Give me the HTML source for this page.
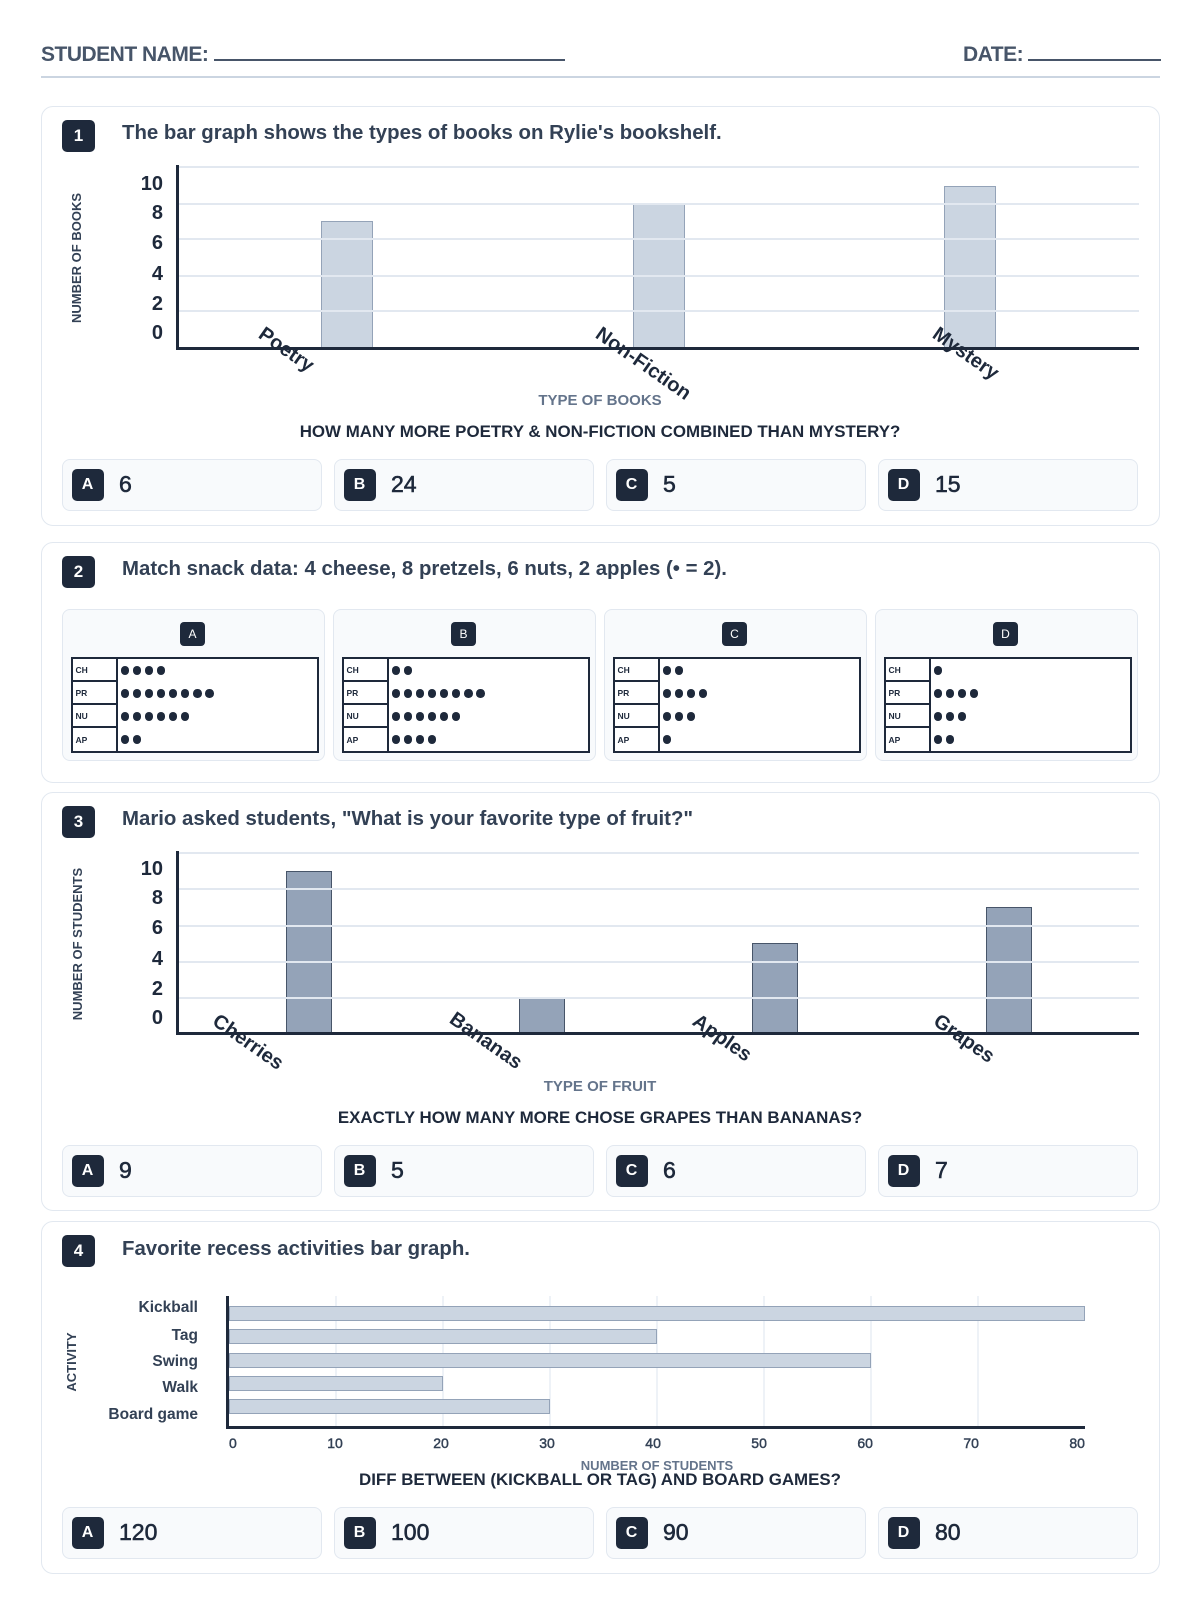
<!DOCTYPE html>
<html><head><meta charset="utf-8">
<style>
body{margin:0;width:1200px;height:1600px;position:relative;background:#fff;font-family:"Liberation Sans",sans-serif;overflow:hidden}
div,span{box-sizing:border-box}
.a{position:absolute}
.card{position:absolute;left:41px;width:1119px;border:1.5px solid #e2e8f0;border-radius:12px;background:#fff}
.nb{position:absolute;left:62px;width:33px;height:32px;background:#1e293b;color:#fff;border-radius:5px;font:bold 17px/32px "Liberation Sans",sans-serif;text-align:center}
.ttl{position:absolute;left:122px;font:bold 20.4px/20px "Liberation Sans",sans-serif;color:#334155;white-space:nowrap}
.yl{position:absolute;left:110px;width:53px;text-align:right;font:bold 20px/20px "Liberation Sans",sans-serif;color:#1e293b}
.gl{position:absolute;left:177px;width:962px;height:2px;background:#e2e8f0}
.xl{position:absolute;font:bold 20px/22px "Liberation Sans",sans-serif;color:#1e293b;transform:rotate(35deg);transform-origin:0 0;white-space:nowrap}
.ax{position:absolute;background:#1e293b}
.b1{position:absolute;background:#cbd5e1;border:1.5px solid #94a3b8}
.b3{position:absolute;background:#94a3b8;border:1.5px solid #475569}
.yt{position:absolute;width:200px;text-align:center;font:bold 13px/14px "Liberation Sans",sans-serif;color:#334155;transform:rotate(-90deg);white-space:nowrap}
.xt{position:absolute;left:300px;width:600px;text-align:center;font:bold 15px/16px "Liberation Sans",sans-serif;color:#64748b}
.q{position:absolute;left:100px;width:1000px;text-align:center;font:bold 16.9px/18px "Liberation Sans",sans-serif;color:#1e293b;white-space:nowrap}
.ans{position:absolute;width:260px;height:52px;background:#f8fafc;border:1.5px solid #e2e8f0;border-radius:8px}
.ans .l{position:absolute;left:8.5px;top:8.5px;width:32px;height:32px;background:#1e293b;border-radius:5px;color:#fff;font:bold 16px/32px "Liberation Sans",sans-serif;text-align:center}
.ans .v{position:absolute;left:56px;top:0;line-height:49px;font-size:23px;color:#1e293b;-webkit-text-stroke:.6px #1e293b}
.pp{position:absolute;top:609px;width:263px;height:152px;background:#f8fafc;border:1.5px solid #e2e8f0;border-radius:8px}
.pp .pb{position:absolute;left:117px;top:11.5px;width:25px;height:24px;background:#1e293b;border-radius:4px;color:#fff;font:12px/24px "Liberation Sans",sans-serif;text-align:center}
.tb{position:absolute;left:7.5px;top:46.5px;width:248px;height:96px;border:2px solid #1e293b;background:#fff}
.lc{position:absolute;left:0;top:0;width:45px;height:92px;border-right:2px solid #1e293b}
.lc div{height:23px;border-bottom:2px solid #1e293b;font:bold 8.5px/23px "Liberation Sans",sans-serif;color:#1e293b;padding-left:3px}
.lc div:last-child{border-bottom:none;line-height:24px}
.dc{position:absolute;left:48px;top:0;width:190px}
.dc div{height:23px;padding-top:7.5px;white-space:nowrap;font-size:0}
.dc i{display:inline-block;width:8.5px;height:8.5px;border-radius:50%;background:#1e293b;margin-right:3.6px}
.vg{position:absolute;top:1296px;width:1.5px;height:130px;background:#eef2f7}
.hb{position:absolute;left:229px;height:15px;background:#cbd5e1;border:1.5px solid #94a3b8}
.cl{position:absolute;left:90px;width:108px;text-align:right;font:bold 15.5px/16px "Liberation Sans",sans-serif;color:#334155;white-space:nowrap}
</style></head><body>

<!-- Header -->
<div class="a" style="left:41px;top:44px;font:bold 21px/21px 'Liberation Sans',sans-serif;color:#475569;letter-spacing:-0.5px;white-space:nowrap">STUDENT NAME: <span style="display:inline-block;width:351px;border-bottom:2px solid #475569;vertical-align:baseline;letter-spacing:0"></span></div>
<div class="a" style="left:963px;top:44px;font:bold 21px/21px 'Liberation Sans',sans-serif;color:#475569;letter-spacing:-0.5px;white-space:nowrap">DATE: <span style="display:inline-block;width:133px;border-bottom:2px solid #475569;vertical-align:baseline;letter-spacing:0"></span></div>
<div class="a" style="left:41px;top:76px;width:1119px;height:2px;background:#cbd5e1"></div>

<!-- Card 1 -->
<div class="card" style="top:106px;height:420px"></div>
<div class="nb" style="top:120px">1</div>
<div class="ttl" style="top:123px">The bar graph shows the types of books on Rylie's bookshelf.</div>

<div class="yt" style="left:-23px;top:251px">NUMBER OF BOOKS</div>
<div class="yl" style="top:174px">10</div>
<div class="yl" style="top:203px">8</div>
<div class="yl" style="top:233px">6</div>
<div class="yl" style="top:264px">4</div>
<div class="yl" style="top:294px">2</div>
<div class="yl" style="top:323px">0</div>

<div class="b1" style="left:321px;top:221px;width:52px;height:127px"></div>
<div class="b1" style="left:633px;top:204px;width:52px;height:144px"></div>
<div class="b1" style="left:944px;top:186px;width:52px;height:162px"></div>

<div class="gl" style="top:166px"></div>
<div class="gl" style="top:203px"></div>
<div class="gl" style="top:238px"></div>
<div class="gl" style="top:275px"></div>
<div class="gl" style="top:310px"></div>

<div class="ax" style="left:176px;top:165px;width:3px;height:185px"></div>
<div class="ax" style="left:176px;top:347px;width:963px;height:3px"></div>

<div class="xl" style="left:267px;top:323px">Poetry</div>
<div class="xl" style="left:604px;top:323px">Non-Fiction</div>
<div class="xl" style="left:941px;top:323px">Mystery</div>

<div class="xt" style="top:393px">TYPE OF BOOKS</div>
<div class="q" style="top:423px">HOW MANY MORE POETRY &amp; NON-FICTION COMBINED THAN MYSTERY?</div>

<div class="ans" style="left:62px;top:459px"><div class="l">A</div><div class="v">6</div></div>
<div class="ans" style="left:334px;top:459px"><div class="l">B</div><div class="v">24</div></div>
<div class="ans" style="left:606px;top:459px"><div class="l">C</div><div class="v">5</div></div>
<div class="ans" style="left:878px;top:459px"><div class="l">D</div><div class="v">15</div></div>

<!-- Card 2 -->
<div class="card" style="top:542px;height:241px"></div>
<div class="nb" style="top:556px">2</div>
<div class="ttl" style="top:559px">Match snack data: 4 cheese, 8 pretzels, 6 nuts, 2 apples (• = 2).</div>

<div class="pp" style="left:62px"><div class="pb">A</div>
 <div class="tb"><div class="lc"><div>CH</div><div>PR</div><div>NU</div><div>AP</div></div>
 <div class="dc"><div><i></i><i></i><i></i><i></i></div><div><i></i><i></i><i></i><i></i><i></i><i></i><i></i><i></i></div><div><i></i><i></i><i></i><i></i><i></i><i></i></div><div><i></i><i></i></div></div></div></div>
<div class="pp" style="left:333px"><div class="pb">B</div>
 <div class="tb"><div class="lc"><div>CH</div><div>PR</div><div>NU</div><div>AP</div></div>
 <div class="dc"><div><i></i><i></i></div><div><i></i><i></i><i></i><i></i><i></i><i></i><i></i><i></i></div><div><i></i><i></i><i></i><i></i><i></i><i></i></div><div><i></i><i></i><i></i><i></i></div></div></div></div>
<div class="pp" style="left:604px"><div class="pb">C</div>
 <div class="tb"><div class="lc"><div>CH</div><div>PR</div><div>NU</div><div>AP</div></div>
 <div class="dc"><div><i></i><i></i></div><div><i></i><i></i><i></i><i></i></div><div><i></i><i></i><i></i></div><div><i></i></div></div></div></div>
<div class="pp" style="left:875px"><div class="pb">D</div>
 <div class="tb"><div class="lc"><div>CH</div><div>PR</div><div>NU</div><div>AP</div></div>
 <div class="dc"><div><i></i></div><div><i></i><i></i><i></i><i></i></div><div><i></i><i></i><i></i></div><div><i></i><i></i></div></div></div></div>

<!-- Card 3 -->
<div class="card" style="top:792px;height:419px"></div>
<div class="nb" style="top:806px">3</div>
<div class="ttl" style="top:809px">Mario asked students, "What is your favorite type of fruit?"</div>

<div class="yt" style="left:-22px;top:937px">NUMBER OF STUDENTS</div>
<div class="yl" style="top:859px">10</div>
<div class="yl" style="top:888px">8</div>
<div class="yl" style="top:918px">6</div>
<div class="yl" style="top:949px">4</div>
<div class="yl" style="top:979px">2</div>
<div class="yl" style="top:1008px">0</div>

<div class="b3" style="left:286px;top:871px;width:46px;height:162px"></div>
<div class="b3" style="left:519px;top:997px;width:46px;height:36px"></div>
<div class="b3" style="left:752px;top:943px;width:46px;height:90px"></div>
<div class="b3" style="left:986px;top:907px;width:46px;height:126px"></div>

<div class="gl" style="top:852px"></div>
<div class="gl" style="top:888px"></div>
<div class="gl" style="top:925px"></div>
<div class="gl" style="top:961px"></div>
<div class="gl" style="top:997px"></div>

<div class="ax" style="left:176px;top:851px;width:3px;height:184px"></div>
<div class="ax" style="left:176px;top:1032px;width:963px;height:3px"></div>

<div class="xl" style="left:221px;top:1010px">Cherries</div>
<div class="xl" style="left:458px;top:1008px">Bananas</div>
<div class="xl" style="left:701px;top:1010px">Apples</div>
<div class="xl" style="left:942px;top:1010px">Grapes</div>

<div class="xt" style="top:1079px">TYPE OF FRUIT</div>
<div class="q" style="top:1109px">EXACTLY HOW MANY MORE CHOSE GRAPES THAN BANANAS?</div>

<div class="ans" style="left:62px;top:1145px"><div class="l">A</div><div class="v">9</div></div>
<div class="ans" style="left:334px;top:1145px"><div class="l">B</div><div class="v">5</div></div>
<div class="ans" style="left:606px;top:1145px"><div class="l">C</div><div class="v">6</div></div>
<div class="ans" style="left:878px;top:1145px"><div class="l">D</div><div class="v">7</div></div>

<!-- Card 4 -->
<div class="card" style="top:1221px;height:353px"></div>
<div class="nb" style="top:1235px">4</div>
<div class="ttl" style="top:1239px">Favorite recess activities bar graph.</div>

<div class="yt" style="left:-28px;top:1355px">ACTIVITY</div>

<div class="vg" style="left:335px"></div>
<div class="vg" style="left:442px"></div>
<div class="vg" style="left:549px"></div>
<div class="vg" style="left:656px"></div>
<div class="vg" style="left:763px"></div>
<div class="vg" style="left:870px"></div>
<div class="vg" style="left:977px"></div>

<div class="hb" style="top:1306px;width:856px"></div>
<div class="hb" style="top:1329px;width:428px"></div>
<div class="hb" style="top:1353px;width:642px"></div>
<div class="hb" style="top:1376px;width:214px"></div>
<div class="hb" style="top:1399px;width:321px"></div>

<div class="ax" style="left:226px;top:1296px;width:3px;height:133px"></div>
<div class="ax" style="left:226px;top:1426px;width:859px;height:3px"></div>

<div class="cl" style="top:1300px">Kickball</div>
<div class="cl" style="top:1328px">Tag</div>
<div class="cl" style="top:1354px">Swing</div>
<div class="cl" style="top:1380px">Walk</div>
<div class="cl" style="top:1407px">Board game</div>

<div class="a" style="left:229px;top:1435px;width:856px;display:flex;justify-content:space-between;font:14px/16px 'Liberation Sans',sans-serif;color:#334155;-webkit-text-stroke:.45px #334155">
<span>0</span><span>10</span><span>20</span><span>30</span><span>40</span><span>50</span><span>60</span><span>70</span><span>80</span></div>

<div class="a" style="left:457px;top:1459px;width:400px;text-align:center;font:bold 13px/14px 'Liberation Sans',sans-serif;color:#64748b">NUMBER OF STUDENTS</div>
<div class="q" style="top:1471px">DIFF BETWEEN (KICKBALL OR TAG) AND BOARD GAMES?</div>

<div class="ans" style="left:62px;top:1507px"><div class="l">A</div><div class="v">120</div></div>
<div class="ans" style="left:334px;top:1507px"><div class="l">B</div><div class="v">100</div></div>
<div class="ans" style="left:606px;top:1507px"><div class="l">C</div><div class="v">90</div></div>
<div class="ans" style="left:878px;top:1507px"><div class="l">D</div><div class="v">80</div></div>

</body></html>
